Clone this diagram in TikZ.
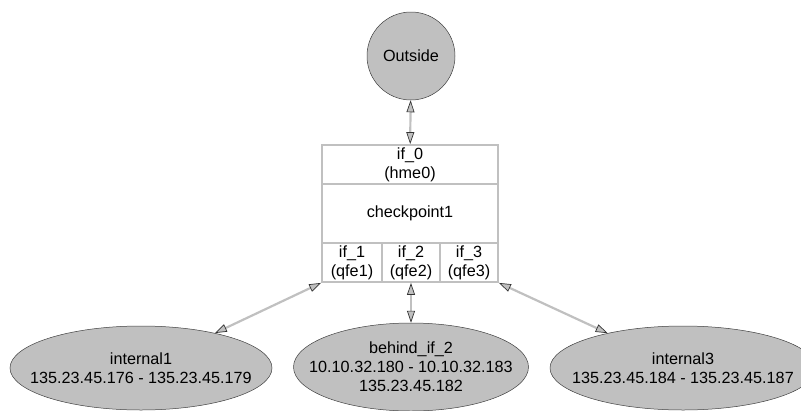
\documentclass[tikz,border=0pt]{standalone}
\usepackage{fontspec}
\setmainfont{Liberation Sans}
\usetikzlibrary{shapes.geometric,arrows.meta}

\definecolor{hostgray}{HTML}{C0C0C0}
\definecolor{linegray}{HTML}{C0C0C0}

\tikzset{
  host/.style={ellipse, draw=black!75, fill=hostgray, line width=0.5pt, inner sep=0pt},
  field/.style={rectangle, draw=linegray, line width=1.8pt, align=center, inner sep=0pt},
  hosttext/.style={align=center},
  gwtip/.tip={Triangle[length=12pt,width=8pt,open,fill=hostgray,color=black!80,line width=0.7pt]},
  link/.style={draw=linegray, line width=2.2pt, gwtip-gwtip}
}

\begin{document}
\begin{tikzpicture}[x=1pt,y=-1pt,font=\fontsize{16.2}{19}\selectfont]
\useasboundingbox (0,0) rectangle (801,410);

% outside world
\node [host, circle, minimum size=88] (outside) at (411,56) {Outside};

% firewall record
\node [field, minimum width=176, minimum height=39] (if0) at (410,164.5) {if\_0\\(hme0)};
\node [field, minimum width=176, minimum height=59] (cp) at (410,213.5) {checkpoint1};
\node [field, minimum width=60, minimum height=39] (if1) at (352,262.5) {if\_1\\(qfe1)};
\node [field, minimum width=58, minimum height=39] (if2) at (411,262.5) {if\_2\\(qfe2)};
\node [field, minimum width=58, minimum height=39] (if3) at (469,262.5) {if\_3\\(qfe3)};

% networks behind the interfaces
\node [host, minimum width=262, minimum height=84,
  label={[hosttext]center:internal1\\135.23.45.176 - 135.23.45.179}] (int1) at (141,368) {};
\node [host, minimum width=235, minimum height=88,
  label={[hosttext]center:behind\_if\_2\\10.10.32.180 - 10.10.32.183\\135.23.45.182}] (behind2) at (411,367) {};
\node [host, minimum width=266, minimum height=84,
  label={[hosttext]center:internal3\\135.23.45.184 - 135.23.45.187}] (int3) at (683,368) {};

\draw [link] (outside) -- (if0);
\draw [link] (if1.south west) -- (int1);
\draw [link] (if2) -- (behind2);
\draw [link] (if3.south east) -- (int3);
\end{tikzpicture}
\end{document}
